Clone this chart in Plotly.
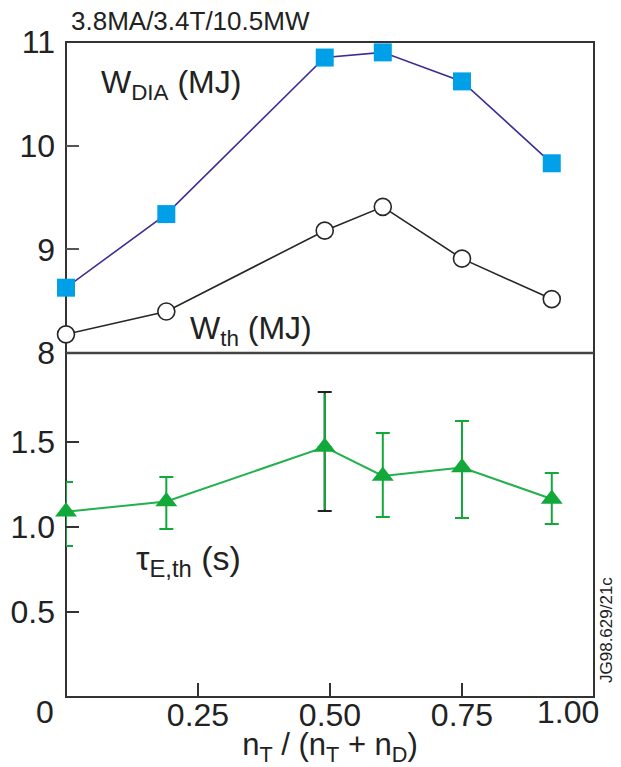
import plotly.graph_objects as go

# ---- data ----
frac_T = [0.0, 0.19, 0.49, 0.60, 0.75, 0.92]
w_dia = [8.63, 9.34, 10.85, 10.90, 10.62, 9.83]
w_th = [8.18, 8.40, 9.18, 9.41, 8.91, 8.52]
tau_E = [1.09, 1.15, 1.47, 1.30, 1.35, 1.165]
tau_hi = [1.265, 1.294, 1.794, 1.553, 1.624, 1.318]
tau_lo = [0.888, 0.988, 1.094, 1.059, 1.053, 1.018]
x_tickvals = [0.25, 0.50, 0.75, 1.00]
x_ticktext = ["0.25", "0.50", "0.75", ""]
y_top_ticks = [8, 9, 10, 11]
y_bot_ticks = [0.5, 1.0, 1.5]
y_bot_text = ["0.5", "1.0", "1.5"]

err_plus = [h - v for h, v in zip(tau_hi, tau_E)]
err_minus = [v - l for l, v in zip(tau_lo, tau_E)]

FONT = "Liberation Sans, Arial, Helvetica, sans-serif"
GREEN = "#12a83a"
INK = "#222222"
TICKSIZE = 32

fig = go.Figure()

# top panel
fig.add_trace(go.Scatter(
    x=frac_T, y=w_th, yaxis="y2", mode="lines+markers",
    line=dict(color="#262626", width=1.6),
    marker=dict(symbol="circle", size=17, color="white",
                line=dict(color="#262626", width=1.6)),
    cliponaxis=False, showlegend=False))
fig.add_trace(go.Scatter(
    x=frac_T, y=w_dia, yaxis="y2", mode="lines+markers",
    line=dict(color="#3c2f94", width=1.6),
    marker=dict(symbol="square", size=18, color="#00a0e9"),
    cliponaxis=False, showlegend=False))

# bottom panel: black caps for the 0.49 point, then green stems
k = 2
fig.add_trace(go.Scatter(
    x=[frac_T[k]], y=[tau_E[k]], mode="markers",
    marker=dict(size=1, opacity=0),
    error_y=dict(type="data", symmetric=False, array=[err_plus[k]],
                 arrayminus=[err_minus[k]], color="#222222",
                 thickness=2, width=7),
    cliponaxis=False, showlegend=False))
plus_g = [e if i != k else 0 for i, e in enumerate(err_plus)]
minus_g = [e if i != k else 0 for i, e in enumerate(err_minus)]
fig.add_trace(go.Scatter(
    x=frac_T, y=tau_E, mode="markers",
    marker=dict(size=1, opacity=0),
    error_y=dict(type="data", symmetric=False, array=plus_g,
                 arrayminus=minus_g, color=GREEN, thickness=2, width=7),
    cliponaxis=False, showlegend=False))
fig.add_trace(go.Scatter(
    x=[frac_T[k]], y=[tau_E[k]], mode="markers",
    marker=dict(size=1, opacity=0),
    error_y=dict(type="data", symmetric=False, array=[err_plus[k] - 0.01],
                 arrayminus=[err_minus[k] - 0.01], color=GREEN,
                 thickness=2, width=0),
    cliponaxis=False, showlegend=False))
fig.add_trace(go.Scatter(
    x=frac_T, y=tau_E, mode="lines+markers",
    line=dict(color="#22b14c", width=2),
    marker=dict(symbol="triangle-up", size=19, color=GREEN),
    cliponaxis=False, showlegend=False))

W, H = 621, 767
L, R, T, B = 66, 27, 42, 70
ph = H - T - B
pw = W - L - R
split_px = 353
split = (697 - split_px) / ph


def px(xp):
    return (xp - L) / pw


def py(yp):
    return (697 - yp) / ph


fig.update_layout(
    width=W, height=H,
    margin=dict(l=L, r=R, t=T, b=B, pad=0),
    paper_bgcolor="white", plot_bgcolor="white",
    font=dict(family=FONT, color=INK, size=30),
    xaxis=dict(range=[0, 1], domain=[0, 1], anchor="y",
               tickvals=x_tickvals, ticktext=x_ticktext,
               ticks="inside", ticklen=14, tickwidth=1.6, tickcolor="#333",
               showgrid=False, zeroline=False, showline=False,
               ticklabelstandoff=-4,
               tickfont=dict(size=TICKSIZE, family=FONT, color=INK),
               title=dict(text="n<sub>T</sub> / (n<sub>T</sub> + n<sub>D</sub>)",
                          font=dict(size=31, family=FONT, color=INK), standoff=0)),
    yaxis=dict(range=[0, (697 - split_px) / 170.0], domain=[0, split], anchor="x",
               tickvals=y_bot_ticks, ticktext=y_bot_text,
               ticks="inside", ticklen=13, tickwidth=1.6, tickcolor="#333",
               showgrid=False, zeroline=False, showline=False,
               ticklabelstandoff=10,
               tickfont=dict(size=TICKSIZE, family=FONT, color=INK)),
    yaxis2=dict(range=[8, 11], domain=[split, 1], anchor="x",
                tickvals=y_top_ticks,
                ticks="inside", ticklen=13, tickwidth=1.6, tickcolor="#555",
                showgrid=False, zeroline=False, showline=False,
                ticklabelstandoff=10,
                tickfont=dict(size=TICKSIZE, family=FONT, color=INK)),
    shapes=[
        dict(type="rect", xref="paper", yref="paper", x0=0, x1=1, y0=0, y1=1,
             line=dict(color="#333", width=2), layer="below"),
        dict(type="line", xref="paper", yref="paper", x0=0, x1=1,
             y0=split, y1=split, line=dict(color="#444", width=2.5), layer="below"),
    ],
    annotations=[
        dict(text="3.8MA/3.4T/10.5MW", xref="paper", yref="paper",
             x=px(69), y=py(21), xanchor="left", yanchor="middle",
             showarrow=False, font=dict(size=26, family=FONT, color=INK)),
        dict(text="W<sub>DIA</sub> (MJ)", xref="paper", yref="paper",
             x=px(99), y=py(84), xanchor="left", yanchor="middle",
             showarrow=False, font=dict(size=32, family=FONT, color=INK)),
        dict(text="W<sub>th</sub> (MJ)", xref="paper", yref="paper",
             x=px(188), y=py(330), xanchor="left", yanchor="middle",
             showarrow=False, font=dict(size=32, family=FONT, color=INK)),
        dict(text="τ<sub>E,th</sub> (s)", xref="paper", yref="paper",
             x=px(134), y=py(560), xanchor="left", yanchor="middle",
             showarrow=False, font=dict(size=34, family=FONT, color=INK)),
        dict(text="0", xref="paper", yref="paper",
             x=px(45), y=py(712), xanchor="center", yanchor="middle",
             showarrow=False, font=dict(size=TICKSIZE, family=FONT, color=INK)),
        dict(text="1.00", xref="paper", yref="paper",
             x=px(568), y=py(712), xanchor="center", yanchor="middle",
             showarrow=False, font=dict(size=TICKSIZE, family=FONT, color=INK)),
        dict(text="JG98.629/21c", xref="paper", yref="paper",
             x=px(606), y=py(630), xanchor="center", yanchor="middle",
             textangle=-90, showarrow=False,
             font=dict(size=17, family=FONT, color=INK)),
    ],
)

fig.write_html("out.html")
